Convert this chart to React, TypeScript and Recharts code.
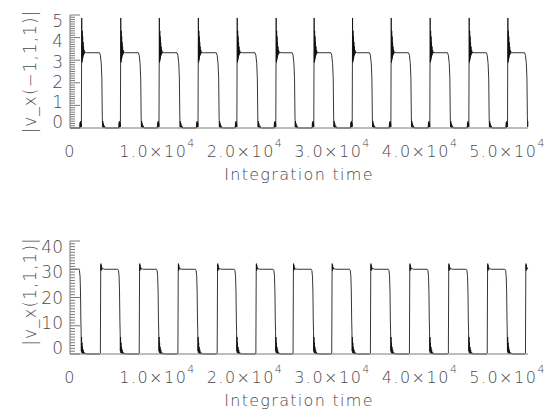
import { LineChart, Line, XAxis, YAxis } from 'recharts';

// times (integration time units): top pulse kicks in / bottom flow drops
const switchTimes = [1300, 5760, 10170, 14630, 19070, 23520, 27860, 32250, 36670, 41120, 45580, 50000];
// times where the top plateau ends and the bottom one comes back
const releaseTimes = [3370, 7810, 12230, 16720, 21140, 25390, 29810, 34230, 38690, 43140, 47580, 51950];
const endTime = 52330;

// |v_x(-1,1,1)| around a switch, [dt, value]
const upperKick: [number, number][] = [
  [-200, 0], [-150, 0.25], [-120, 0.03], [-90, 0.3], [-60, 0.05], [-30, 0.22], [0, 0.05],
  [40, 4.87], [70, 2.9], [95, 4.3], [120, 3.0], [145, 4.05], [170, 3.1], [195, 3.8], [220, 3.2],
  [250, 3.6], [280, 3.25], [320, 3.45], [370, 3.3], [450, 3.36], [600, 3.33],
];
const upperDrop: [number, number][] = [
  [0, 3.33], [100, 3.22], [200, 2.85], [270, 2.2], [320, 0.5], [350, 0.05], [380, 0.3], [410, 0.03],
  [450, 0.2], [500, 0.02], [560, 0.1], [650, 0], [850, 0],
];

// |v_x(1,1,1)| around a switch, [dt, value]
const lowerDrop: [number, number][] = [
  [-300, 30], [-220, 29.6], [-150, 27.5], [-100, 22], [-60, 12], [-30, 8], [-5, 1], [20, 6], [45, 0.5],
  [70, 4], [100, 0.3], [130, 2.5], [170, 0.2], [210, 1.5], [260, 0.1], [320, 0.6], [400, 0], [480, 0.2], [580, 0],
];
const lowerRise: [number, number][] = [
  [0, 0], [100, 0.3], [140, 29], [160, 32], [180, 29.5], [200, 31.5], [230, 30], [280, 30.6],
  [350, 30], [450, 30.2], [550, 30],
];

const xMajor = [0, 10000, 20000, 30000, 40000, 50000];
const xMinor = Array.from({ length: 53 }, (_, i) => i * 1000);
const upperYTicks = Array.from({ length: 51 }, (_, i) => i / 10);
const lowerYTicks = Array.from({ length: 41 }, (_, i) => i);

type Pt = { t: number; v: number };

function assemble(start: number, atSwitch: [number, number][], atRelease: [number, number][]): Pt[] {
  const pts: Pt[] = [{ t: 0, v: start }];
  switchTimes.forEach((s) => atSwitch.forEach(([dt, v]) => pts.push({ t: s + dt, v })));
  releaseTimes.forEach((r) => atRelease.forEach(([dt, v]) => pts.push({ t: r + dt, v })));
  return pts.filter((p) => p.t <= endTime).sort((a, b) => a.t - b.t);
}

const upperData = assemble(0, upperKick, upperDrop);
const lowerData = assemble(30, lowerDrop, lowerRise);

const AXIS = '#7a7a7a';
const TEXT = '#4a4a4a';
const FONT = '"DejaVu Sans", sans-serif';

function XLabelTick({ x, y, payload }: any) {
  const v = payload.value;
  return (
    <text x={x} y={y + 29} textAnchor="middle" fontFamily={FONT} fontSize={16} fontWeight={300}
      letterSpacing={1.5} fill={TEXT}>
      {v === 0 ? '0' : (
        <>
          <tspan>{(v / 1e4).toFixed(1)}×10</tspan>
          <tspan dy={-10} fontSize={11}>4</tspan>
        </>
      )}
    </text>
  );
}

const topTick = (len: number) => ({ x, y, payload }: any) => {
  const major = payload.value % 10000 === 0;
  return <line x1={x} x2={x} y1={y} y2={y + (major ? len * 2 : len)} stroke={AXIS} />;
};

const yTick = (side: 'left' | 'right', step: number, mid: number) => ({ x, y, payload }: any) => {
  const v = payload.value;
  const major = Math.abs(v / step - Math.round(v / step)) < 1e-6;
  const len = major ? 10 : 5;
  const dir = side === 'left' ? 1 : -1;
  return (
    <g>
      <line x1={x} x2={x + dir * len} y1={y} y2={y} stroke={AXIS} />
      {side === 'left' && major && (
        <text x={x - 7} y={mid + (y - mid) * 0.894} dy="0.36em" textAnchor="end" fontFamily={FONT}
          fontSize={17} fontWeight={300} fill={TEXT}>
          {Math.round(v)}
        </text>
      )}
    </g>
  );
};

const xTitle = (p: any) => {
  const vb = p.viewBox;
  return (
    <text x={vb.x + vb.width / 2} y={vb.y + 52} textAnchor="middle" fontFamily={FONT} fontSize={16}
      fontWeight={300} letterSpacing={1.3} fill={TEXT}>
      Integration time
    </text>
  );
};

const yTitle = (text: string, shift: number) => (p: any) => {
  const vb = p.viewBox;
  const cy = vb.y + vb.height / 2 + shift;
  return (
    <text transform={`translate(36, ${cy}) rotate(-90)`} textAnchor="middle" fontFamily={FONT}
      fontSize={17} fontWeight={300} letterSpacing={1} fill={TEXT}>
      {text}
    </text>
  );
};

function Panel({ data, domain, yTicks, step, title, titleShift, height, topAxisColor }: any) {
  const mid = 15 + 113 / 2;
  return (
    <LineChart width={548} height={height} data={data} margin={{ top: 15, right: 20, bottom: 0, left: 0 }}>
      <XAxis dataKey="t" type="number" domain={[0, 52340]} ticks={xMajor} interval={0} height={height - 128}
        tickSize={0} tickMargin={0} tickLine={false} axisLine={{ stroke: AXIS }} tick={XLabelTick}
        label={xTitle} />
      <XAxis xAxisId="top" orientation="top" dataKey="t" type="number" domain={[0, 52340]} ticks={xMinor}
        interval={0} height={0} tickSize={0} tickMargin={0} tickLine={false}
        axisLine={{ stroke: topAxisColor }} tick={topTick(2)} />
      <YAxis type="number" domain={domain} ticks={yTicks} interval={0} width={70} tickSize={0} tickMargin={0}
        tickLine={false} axisLine={{ stroke: AXIS }} tick={yTick('left', step, mid)}
        label={yTitle(title, titleShift)} />
      <YAxis yAxisId="right" orientation="right" type="number" domain={domain} ticks={yTicks} interval={0}
        width={0} tickSize={0} tickMargin={0} tickLine={false} axisLine={{ stroke: AXIS }}
        tick={yTick('right', step, mid)} />
      <Line dataKey="v" type="linear" stroke="#111" strokeWidth={0.85} dot={false} isAnimationActive={false} />
    </LineChart>
  );
}

export default function App() {
  return (
    <div style={{ position: 'absolute', left: 0, top: 0, width: 548, height: 418, background: '#fff' }}>
      <div style={{ position: 'absolute', left: 0, top: 0 }}>
        <Panel data={upperData} domain={[0, 5]} yTicks={upperYTicks} step={1} title="|v_x(−1,1,1)|"
          titleShift={0} height={200} topAxisColor="#cfcfcf" />
      </div>
      <div style={{ position: 'absolute', left: 0, top: 226 }}>
        <Panel data={lowerData} domain={[0, 40]} yTicks={lowerYTicks} step={10} title="|v_x(1,1,1)|"
          titleShift={-6} height={192} topAxisColor={AXIS} />
      </div>
    </div>
  );
}
